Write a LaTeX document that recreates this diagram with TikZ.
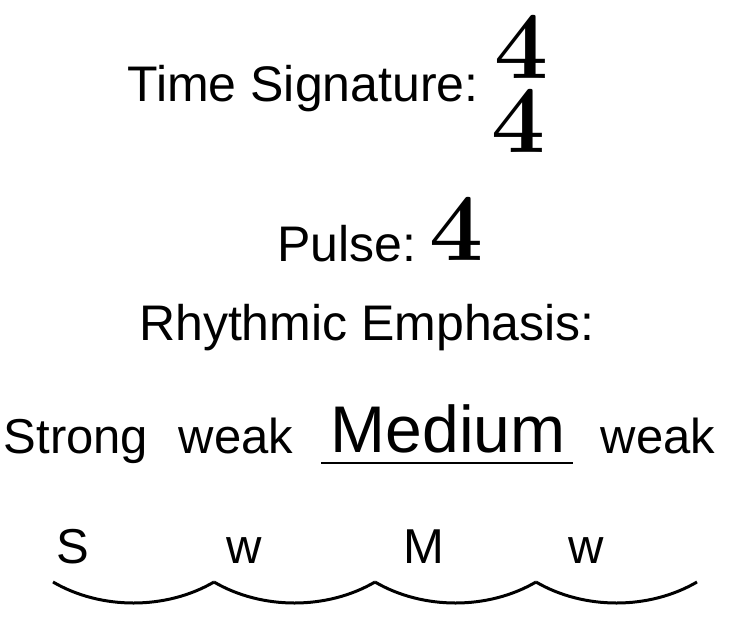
\documentclass[tikz,border=0pt]{standalone}
\usepackage{fontspec}
\setsansfont{Liberation Sans}
\usepackage{tikz}
\usetikzlibrary{positioning}
\tikzstyle{heading} = [font=\sffamily\fontsize{50}{60}\selectfont, inner sep=0pt, anchor=base]
\tikzstyle{accent} = [font=\sffamily\fontsize{49}{58}\selectfont, inner sep=0pt, anchor=base]
\tikzstyle{accentbig} = [font=\sffamily\fontsize{66}{78}\selectfont, inner sep=0pt, anchor=base]
\tikzstyle{digit} = [font=\rmfamily\bfseries\fontsize{96}{100}\selectfont, inner sep=0pt, text height=60pt, text depth=0pt, anchor=base]
\tikzstyle{beatline} = [line width=3pt]

\begin{document}
\begin{tikzpicture}[x=1pt, y=1pt]
\useasboundingbox (0,0) rectangle (738,-616);

% time signature
\node (timesig) [heading] at (303,-101) {Time Signature:};
\node (sigtop) [digit] at (522,-78) {4};
\node (sigbottom) [digit] at (519,-152) {4};

% pulse
\node (pulse) [heading] at (347,-261) {Pulse:};
\node (pulsenum) [digit] at (457,-260) {4};

% emphasis
\node (emphasis) [heading] at (367,-340) {Rhythmic Emphasis:};
\node (strong) [accent] at (76,-453) {Strong};
\node (weakone) [accent] at (236,-453) {weak};
\node (medium) [accentbig] at (448,-452) {Medium};
\node (weaktwo) [accent] at (658,-453) {weak};
\draw [line width=2.7pt] (321,-463) -- (573,-463);

% beats
\node (beatS) [accent] at (73,-563) {S};
\node (beatw) [accent] at (244,-563) {w};
\node (beatM) [accent] at (424,-563) {M};
\node (beatww) [accent] at (586,-563) {w};
\foreach \x in {53,214,375,536}
  \draw [beatline] (\x,-582) .. controls (\x+48,-610) and (\x+113,-610) .. (\x+161,-582);

\end{tikzpicture}
\end{document}
